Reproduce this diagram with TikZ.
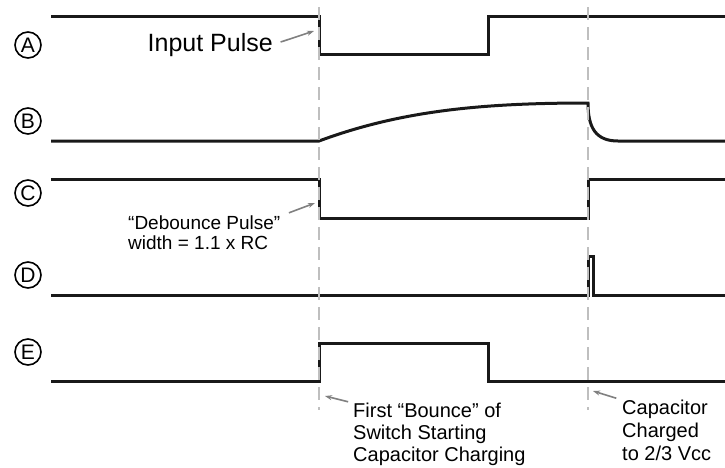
\documentclass[tikz,border=0pt]{standalone}
\usepackage{fontspec}
\setmainfont{Liberation Sans}
\usetikzlibrary{arrows.meta}
\definecolor{guidegray}{gray}{0.75}
\definecolor{calloutgray}{gray}{0.5}
\tikzset{
  wave/.style={line width=3pt,black!90},
  guide/.style={guidegray,line width=2pt,dash pattern=on 13pt off 7pt},
  callout/.style={calloutgray,line width=1.6pt,-{Stealth[length=7pt,width=5pt]}},
  sig/.style={draw,circle,line width=1.6pt,minimum size=26pt,inner sep=0pt,font=\fontsize{21}{21}\selectfont},
  note/.style={inner sep=0pt,align=left,anchor=north west}
}
\begin{document}
\begin{tikzpicture}[x=1pt,y=-1pt]
\useasboundingbox (0,0) rectangle (725,467);

\node[sig] (sigA) at (28,45) {A};
\node[sig] (sigB) at (28,121) {B};
\node[sig] (sigC) at (28,193) {C};
\node[sig] (sigD) at (28,275) {D};
\node[sig] (sigE) at (28,352) {E};

\draw[wave] (51,16) -- (319,16) -- (319,54) -- (488,54) -- (488,16) -- (725,16);
\draw[wave] (51,141) -- (319,141) .. controls (400,111) and (480,103) .. (588,103)
  .. controls (588,128) and (596,141) .. (618,141) -- (725,141);
\draw[wave] (51,179) -- (319,179) -- (319,218) -- (588,218) -- (588,179) -- (725,179);
\draw[wave] (51,295) -- (588,295) -- (588,256) -- (593,256) -- (593,295) -- (725,295);
\draw[wave] (51,381) -- (319,381) -- (319,343) -- (488,343) -- (488,381) -- (725,381);

\draw[guide] (319,7) -- (319,410);
\draw[guide] (588,7) -- (588,410);

\node[inner sep=0pt,anchor=base east,font=\fontsize{25}{30}\selectfont] (inpulse) at (273,51) {Input Pulse};
\coordinate (tipA) at (314,31);
\draw[callout,shorten <=8pt] (inpulse.east) -- (tipA);

\node[note,font=\fontsize{19}{19.5}\selectfont] (debounce) at (128,216) {``Debounce Pulse''\\width = 1.1 x RC};
\coordinate (tipC) at (315,203);
\draw[callout,shorten <=9pt] (debounce.north east) -- (tipC);

\node[note,font=\fontsize{20}{22}\selectfont] (bounce) at (353,403) {First ``Bounce'' of\\Switch Starting\\Capacitor Charging};
\coordinate (tipE) at (325,396);
\draw[callout,shorten <=5pt] (bounce.north west) -- (tipE);

\node[note,font=\fontsize{20}{23}\selectfont] (charged) at (622,400) {Capacitor\\Charged\\to 2/3 Vcc};
\coordinate (tipF) at (593,391);
\draw[callout,shorten <=6pt] (charged.north west) -- (tipF);
\end{tikzpicture}
\end{document}
